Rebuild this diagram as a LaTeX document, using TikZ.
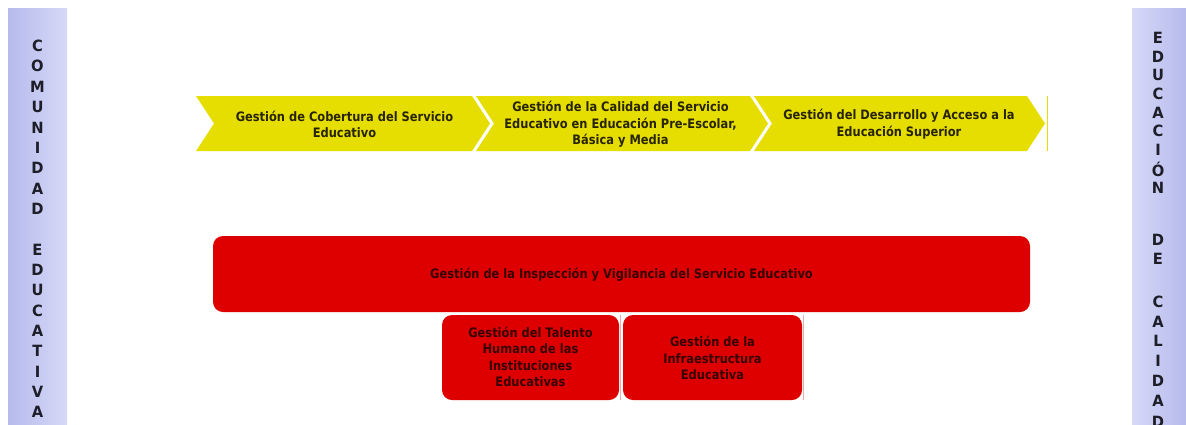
\documentclass[tikz,border=0pt]{standalone}
\usepackage{fontspec}
\newfontfamily\tah[FakeStretch=0.88]{DejaVu Sans}
\newfontfamily\tahside[FakeStretch=0.95]{DejaVu Sans}
\definecolor{yel}{RGB}{230,222,0}
\definecolor{redbox}{RGB}{222,0,0}
\definecolor{lavdark}{RGB}{182,186,236}
\definecolor{lavlight}{RGB}{214,217,247}
\definecolor{ytxt}{RGB}{40,36,0}
\definecolor{rtxt}{RGB}{55,0,0}
\definecolor{pinkline}{RGB}{236,170,170}
\definecolor{sidetxt}{RGB}{30,30,40}
\tikzset{
  chev/.style={fill=yel},
  ytext/.style={font=\tah\bfseries\fontsize{13}{16.5}\selectfont, text=ytxt, align=center, inner sep=0pt},
  rbox/.style={fill=redbox, rounded corners=10pt},
  rtext/.style={font=\tah\bfseries\fontsize{13}{16.5}\selectfont, text=rtxt, align=center, inner sep=0pt},
  sideletter/.style={font=\tahside\bfseries\fontsize{15.5}{15.5}\selectfont, text=sidetxt, inner sep=0pt},
  thinline/.style={draw=pinkline, line width=1pt}
}
\begin{document}
\begin{tikzpicture}[x=1pt,y=-1pt]
\useasboundingbox (0,0) rectangle (1186,424);
\clip (0,0) rectangle (1186,424);
\fill[white] (0,0) rectangle (1186,424);

% side bars
\shade[left color=lavdark, right color=lavlight] (8,8) rectangle (67,424);
\shade[left color=lavlight, right color=lavdark] (1132,8) rectangle (1186,424);

\foreach \l/\k [count=\i] in {C/0,O/1,M/2,U/3,N/4,I/5,D/6,A/7,D/8,E/10,D/11,U/12,C/13,A/14,T/15,I/16,V/17,A/18}
  \node[sideletter] (left\i) at (37.5,{46+20.35*\k}) {\l};

\foreach \l/\y [count=\i] in {E/38,D/57,U/75,C/94,A/113,C/131,I/150,Ó/169,N/188,D/240,E/259,C/302,A/322,L/341,I/361,D/381,A/401,D/422}
  \node[sideletter] (right\i) at (1158,\y) {\l};

% chevrons
\fill[chev] (196,96) -- (472,96) -- (490,123.5) -- (472,151) -- (196,151) -- (214,123.5) -- cycle;
\fill[chev] (476,96) -- (750,96) -- (768,123.5) -- (750,151) -- (476,151) -- (494,123.5) -- cycle;
\fill[chev] (754,96) -- (1027,96) -- (1045,123.5) -- (1027,151) -- (754,151) -- (772,123.5) -- cycle;
\draw[yel, line width=1.5pt] (1047.5,96) -- (1047.5,151);

\node[ytext] (c1) at (344.5,124.5) {Gestión de Cobertura del Servicio\\Educativo};
\node[ytext] (c2) at (620.5,124.5) {Gestión de la Calidad del Servicio\\Educativo en Educación Pre-Escolar,\\Básica y Media};
\node[ytext] (c3) at (899,124) {Gestión del Desarrollo y Acceso a la\\Educación Superior};

% red boxes
\fill[rbox] (213,236) rectangle (1030,312);
\node[rtext] (insp) at (621.5,274.5) {Gestión de la Inspección y Vigilancia del Servicio Educativo};

\fill[rbox] (442,315) rectangle (619,400);
\draw[thinline] (620.5,315) -- (620.5,400);
\node[rtext] (talento) at (530.5,357) {Gestión del Talento\\Humano de las\\Instituciones\\Educativas};

\fill[rbox] (623,315) rectangle (802,400);
\draw[thinline] (803.5,315) -- (803.5,400);
\node[rtext] (infra) at (712.5,358) {Gestión de la\\Infraestructura\\Educativa};
\end{tikzpicture}
\end{document}
